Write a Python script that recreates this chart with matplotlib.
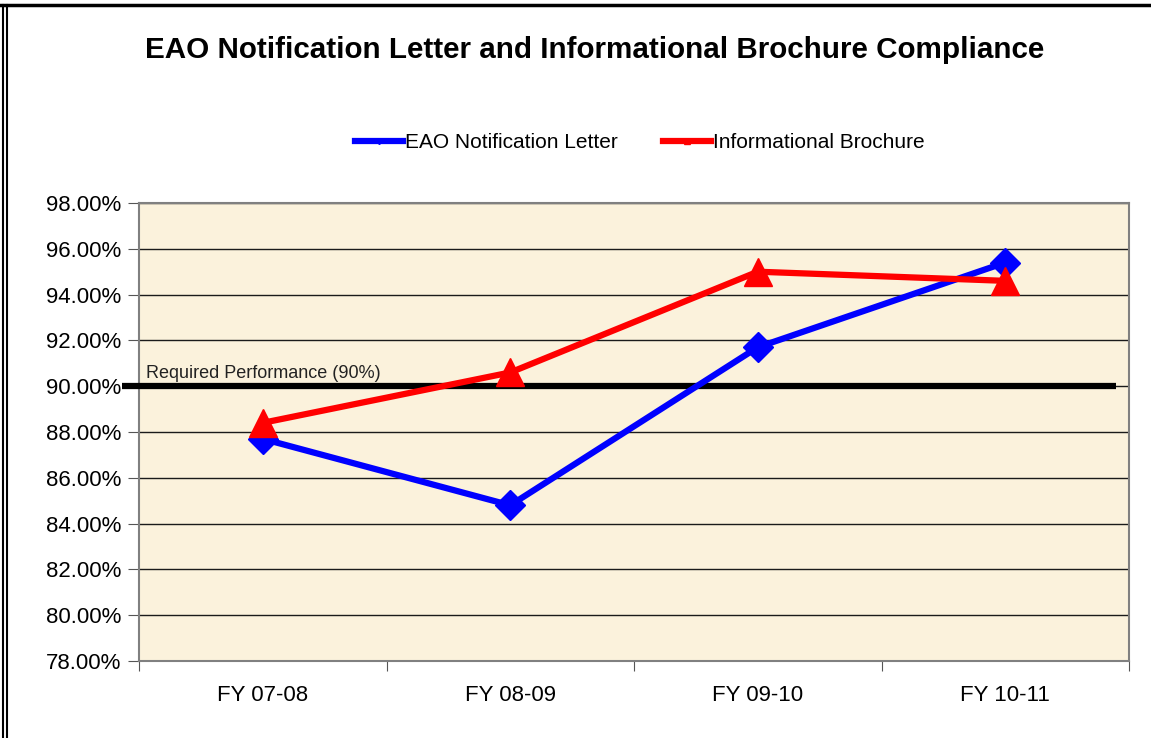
import matplotlib
matplotlib.use("Agg")
import matplotlib.pyplot as plt
from matplotlib.lines import Line2D
from matplotlib.ticker import FixedLocator, PercentFormatter

plt.rcParams['font.family'] = ['Liberation Sans', 'DejaVu Sans']

years = ['FY 07-08', 'FY 08-09', 'FY 09-10', 'FY 10-11']
letter = [87.7, 84.8, 91.7, 95.4]
brochure = [88.4, 90.6, 95.0, 94.6]
required = 90.0
yticks = [78, 80, 82, 84, 86, 88, 90, 92, 94, 96, 98]

fig = plt.figure(figsize=(11.51, 7.38), dpi=100)
fig.patch.set_facecolor('white')
ax = fig.add_axes([139/1151, 1-661/738, 990/1151, 458/738])
ax.set_facecolor('#FBF2DC')

x = list(range(len(years)))
ax.plot(x, letter, color='#0000FF', lw=4.5, marker='D', ms=15, zorder=4,
        label='EAO Notification Letter')
ax.plot(x, brochure, color='#FF0000', lw=4.5, marker='^', ms=20, zorder=5,
        label='Informational Brochure')

# required performance line (sticks out a bit left of the axis)
ax.plot([-0.5 - 17/247.5, 3.5 - 13/247.5], [required, required],
        color='black', lw=4.5, clip_on=False, zorder=3, solid_capstyle='butt')
ax.text(-0.47, required + 0.2, 'Required Performance (90%)', fontsize=13,
        color='#222222', va='bottom', ha='left')

ax.set_xlim(-0.5, 3.5)
ax.set_ylim(78, 98)
ax.set_yticks(yticks)
ax.yaxis.set_major_formatter(PercentFormatter(decimals=2))
ax.grid(axis='y', color='#1a1a1a', lw=1)
ax.set_axisbelow(True)

ax.xaxis.set_major_locator(FixedLocator([-0.5, 0.5, 1.5, 2.5, 3.5]))
ax.xaxis.set_minor_locator(FixedLocator(x))
ax.set_xticklabels([], minor=False)
ax.set_xticklabels(years, minor=True)
ax.tick_params(axis='x', which='major', length=7, color='#555555')
ax.tick_params(axis='x', which='minor', length=0, pad=17, labelsize=16)
ax.tick_params(axis='y', length=8, color='#555555', labelsize=16, pad=5)
for s in ax.spines.values():
    s.set_color('#808080')
    s.set_linewidth(1.5)

fig.suptitle('EAO Notification Letter and Informational Brochure Compliance',
             x=595/1151, y=1-50/738, va='center', fontsize=21.3, fontweight='bold')

handles = [Line2D([], [], color='#0000FF', lw=4.5, marker='D', ms=3),
           Line2D([], [], color='#FF0000', lw=4.5, marker='^', ms=5)]
fig.legend(handles, ['EAO Notification Letter', 'Informational Brochure'],
           loc='center', bbox_to_anchor=(640/1151, 1-143/738), ncol=2,
           frameon=False, fontsize=15, handlelength=2.3, handletextpad=0.1,
           columnspacing=2.2)

# page frame: top rule and double rule on the left
fig.add_artist(Line2D([0, 1], [1-5/738, 1-5/738], transform=fig.transFigure,
                      color='black', lw=2.5))
fig.add_artist(Line2D([2.5/1151, 2.5/1151], [0, 1-5/738], transform=fig.transFigure,
                      color='black', lw=1.5))
fig.add_artist(Line2D([6.5/1151, 6.5/1151], [0, 1-5/738], transform=fig.transFigure,
                      color='black', lw=1.5))

fig.savefig('out.png', dpi=100)
